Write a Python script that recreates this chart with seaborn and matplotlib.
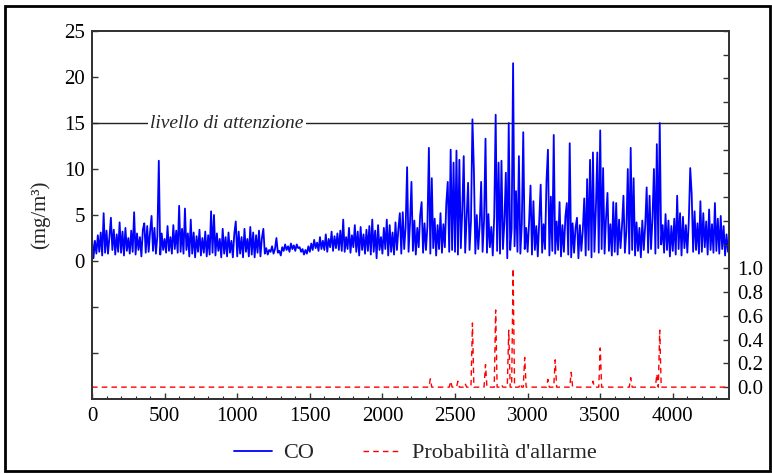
import numpy as np
import pandas as pd
import matplotlib
matplotlib.use("Agg")
import matplotlib.pyplot as plt
import seaborn as sns
from matplotlib.patches import Rectangle
from matplotlib.ticker import MultipleLocator

# CO concentration (mg/m3), one reading every 10 samples, rows of 100 samples
co = [
    2.5, 0.3, 2.2, 0.8, 2.8, 1.0, 3.1, 0.6, 5.2, 0.9,
    3.3, 0.8, 2.6, 4.7, 1.2, 3.4, 0.7, 2.9, 1.0, 4.2,
    0.9, 3.2, 0.6, 3.6, 1.1, 2.5, 0.8, 3.3, 1.0, 5.3,
    0.7, 3.0, 1.2, 2.6, 0.5, 3.4, 4.1, 0.9, 3.8, 1.0,
    3.2, 4.9, 1.1, 3.6, 0.8, 2.7, 10.9, 0.7, 3.0, 1.2,
    2.4, 0.9, 3.8, 1.1, 2.6, 0.8, 3.9, 1.3, 3.3, 0.9,
    6.0, 1.0, 3.5, 0.8, 5.7, 1.2, 3.0, 0.5, 4.5, 0.8,
    3.1, 0.4, 2.7, 1.0, 3.4, 0.6, 2.5, 0.9, 3.2, 0.5,
    2.8, 0.7, 5.4, 0.9, 5.0, 0.6, 3.0, 1.1, 2.4, 0.4,
    3.5, 0.8, 2.6, 0.5, 3.1, 0.9, 2.2, 0.4, 3.0, 4.3,
    0.5, 3.2, 0.8, 2.6, 0.4, 3.5, 1.0, 2.4, 0.5, 3.7,
    0.7, 3.1, 0.4, 2.8, 0.9, 3.3, 0.5, 2.5, 3.5, 0.8,
    1.4, 0.7, 1.2, 1.0, 1.6, 0.8, 1.3, 2.5, 0.9, 1.1,
    0.6, 1.5, 1.1, 1.8, 1.2, 1.6, 1.0, 1.9, 1.3, 1.7,
    1.1, 1.8, 1.4, 1.5, 1.0, 1.3, 0.7, 1.2, 0.8, 1.6,
    1.0, 1.9, 1.2, 2.3, 1.4, 2.0, 1.1, 2.6, 1.3, 2.2,
    1.2, 2.9, 1.0, 2.4, 1.5, 3.2, 1.1, 2.7, 1.4, 3.0,
    1.2, 3.3, 1.1, 4.5, 1.0, 2.6, 1.3, 3.6, 0.9, 2.8,
    1.5, 3.9, 1.0, 3.2, 0.6, 3.7, 1.2, 2.9, 0.8, 3.4,
    1.1, 3.8, 0.7, 4.5, 1.0, 3.3, 0.3, 3.9, 1.2, 2.6,
    0.8, 3.6, 1.3, 4.5, 0.6, 3.9, 1.0, 3.1, 0.7, 4.2,
    1.2, 3.5, 5.2, 0.8, 5.3, 1.3, 3.7, 10.2, 1.0, 4.1,
    8.6, 1.1, 4.4, 0.7, 3.6, 1.5, 5.0, 6.4, 0.9, 4.1,
    1.2, 3.8, 12.3, 0.8, 9.0, 1.4, 4.6, 0.6, 3.9, 1.3,
    5.2, 0.9, 4.0, 1.5, 6.3, 8.6, 1.0, 12.1, 1.2, 10.7,
    1.0, 12.0, 0.7, 11.0, 1.4, 5.5, 11.4, 0.9, 4.8, 8.5,
    1.2, 4.3, 15.4, 9.9, 0.8, 5.0, 1.3, 3.9, 8.6, 1.0,
    4.4, 13.3, 0.9, 5.1, 1.5, 3.7, 0.6, 4.8, 15.9, 1.1,
    10.7, 0.8, 10.9, 1.3, 4.2, 9.6, 0.3, 15.0, 1.2, 3.5,
    21.5, 1.6, 7.6, 1.0, 11.4, 0.8, 4.0, 14.0, 1.3, 3.6,
    1.0, 4.2, 8.2, 0.7, 6.5, 1.2, 3.8, 0.5, 4.4, 8.3,
    0.9, 4.0, 1.3, 8.7, 12.1, 0.6, 7.0, 1.1, 13.7, 0.8,
    4.3, 1.2, 6.4, 0.5, 3.9, 1.0, 4.8, 6.3, 0.7, 12.8,
    0.4, 4.1, 0.9, 3.6, 4.7, 0.3, 3.9, 1.1, 3.3, 6.8,
    0.6, 8.9, 1.2, 11.0, 0.4, 11.8, 1.0, 5.6, 11.8, 0.9,
    14.2, 1.3, 10.1, 0.8, 4.6, 7.4, 1.1, 4.0, 0.6, 6.4,
    1.0, 6.3, 0.7, 4.5, 1.4, 3.8, 7.1, 0.9, 3.2, 10.0,
    0.8, 12.3, 1.2, 9.0, 0.6, 4.2, 1.1, 3.6, 0.4, 4.4,
    1.2, 3.9, 8.0, 0.9, 7.1, 1.3, 4.6, 10.0, 0.8, 12.7,
    1.4, 15.0, 1.8, 3.9, 0.9, 5.1, 1.2, 4.4, 0.5, 3.8,
    1.1, 4.6, 0.7, 7.1, 1.3, 5.2, 0.6, 4.8, 1.4, 3.9,
    0.9, 4.3, 10.1, 7.3, 1.0, 5.4, 1.2, 4.1, 0.8, 6.5,
    1.0, 5.2, 1.5, 4.3, 0.7, 5.6, 1.2, 4.0, 0.9, 6.3,
    1.1, 4.6, 0.8, 4.9, 1.3, 3.8, 0.6, 2.9, 1.0,
]
sample = np.arange(len(co)) * 10

# alarm probability: zero except at these samples
alarm_sample = [2330, 2470, 2520, 2570, 2620, 2710, 2780, 2820, 2870, 2900,
                2950, 2980, 3140, 3190, 3300, 3450, 3500, 3710, 3890, 3910]
alarm_prob = [0.07, 0.05, 0.05, 0.03, 0.54, 0.19, 0.65, 0.02, 0.48, 1.0,
              0.03, 0.25, 0.065, 0.23, 0.125, 0.05, 0.33, 0.08, 0.11, 0.48]

threshold = 15
threshold_label = "livello di attenzione"

df = pd.DataFrame({"sample": sample, "co": co})
prob = pd.Series(0.0, index=sample)
prob.loc[alarm_sample] = alarm_prob
dfp = pd.DataFrame({"sample": sample, "prob": prob.values})

sns.set_style("ticks")
plt.rcParams["font.family"] = ["Liberation Serif", "DejaVu Serif"]
plt.rcParams["font.size"] = 15

fig = plt.figure(figsize=(7.72, 4.74), dpi=100)
ax = fig.add_axes([0.1192, 0.1582, 0.8251, 0.7764])

sns.lineplot(data=df, x="sample", y="co", ax=ax, color="#0000ff", lw=1.3,
             estimator=None, label="CO", legend=False)
ax.axhline(threshold, color="#222222", lw=1.0, zorder=1)
ax.text(930, threshold, threshold_label, ha="center", va="center",
        fontstyle="italic", fontsize=14,
        bbox=dict(facecolor="white", edgecolor="none", pad=1.5), zorder=2)

ax.set_xlim(0, 4387)
ax.set_ylim(-15, 25)
ax.set_xticks(range(0, 4001, 500))
ax.xaxis.set_minor_locator(MultipleLocator(100))
yt = list(range(-10, 26, 5))
ax.set_yticks(yt)
ax.set_yticklabels([str(v) if v >= 0 else "" for v in yt])
ax.set_xlabel("")
ax.set_ylabel("(mg/m³)", fontsize=15, labelpad=10)

ax2 = ax.twinx()
sns.lineplot(data=dfp, x="sample", y="prob", ax=ax2, color="#ff0000", lw=1.0,
             estimator=None, label="Probabilità d'allarme", legend=False)
ax2.lines[0].set_dashes((4, 3))
ax2.set_ylim(-0.1, 3.0)
rt = np.round(np.arange(0, 3.01, 0.2), 1)
ax2.set_yticks(rt)
ax2.set_yticklabels([f"{v:.1f}" if v <= 1.0 else "" for v in rt])
ax2.set_ylabel("")

for a in (ax, ax2):
    for s in a.spines.values():
        s.set_color("#333333")
        s.set_linewidth(1.3)
    a.tick_params(direction="in", length=4, width=1, colors="#333333",
                  labelcolor="black", labelsize=15)
    a.tick_params(which="minor", direction="in", length=2.5, width=0.8)
ax.tick_params(axis="x", pad=6)
ax.tick_params(axis="y", right=False, pad=5)
ax2.tick_params(axis="y", pad=6)

h1, l1 = ax.get_legend_handles_labels()
h2, l2 = ax2.get_legend_handles_labels()
fig.legend(h1 + h2, l1 + l2, loc="center", bbox_to_anchor=(0.538, 0.044),
           ncol=2, frameon=False, fontsize=16, handlelength=1.7,
           handletextpad=0.5, columnspacing=2.2)

fig.patches.append(Rectangle((0.006, 0.006), 0.992, 0.982, transform=fig.transFigure,
                             fill=False, edgecolor="black", lw=2))

fig.savefig("out.png", dpi=100)
